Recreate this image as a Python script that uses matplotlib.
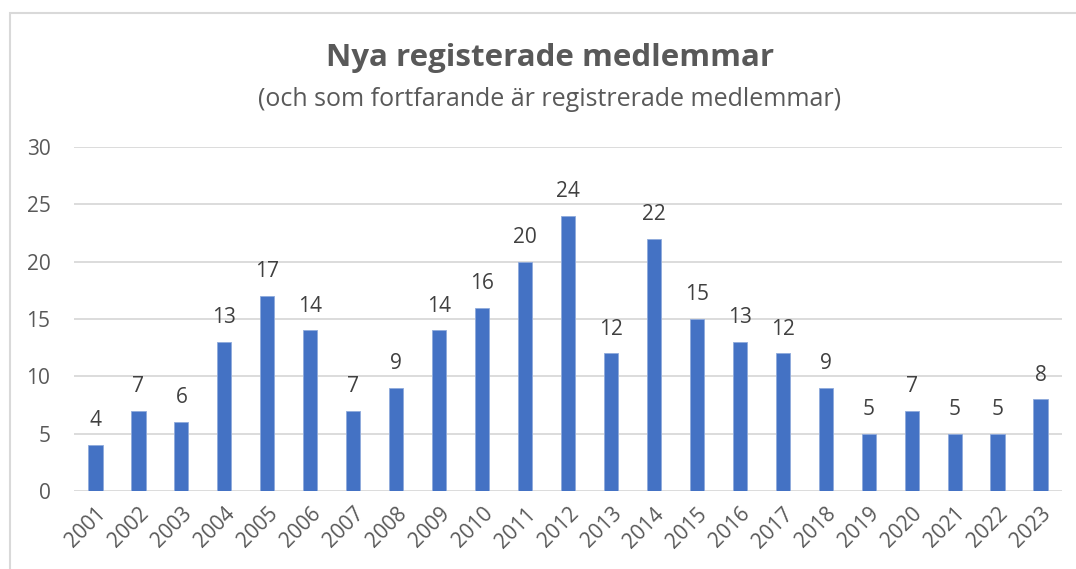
import matplotlib.pyplot as plt
from matplotlib.patches import Rectangle

years = [str(y) for y in range(2001, 2024)]
members = [4, 7, 6, 13, 17, 14, 7, 9, 14, 16, 20, 24, 12, 22, 15, 13, 12, 9, 5, 7, 5, 5, 8]
yticks = [0, 5, 10, 15, 20, 25, 30]

plt.rcParams['font.family'] = ['Open Sans', 'DejaVu Sans']
W, H = 1076, 569
fig = plt.figure(figsize=(W / 100, H / 100), dpi=100)

# ram runt diagrammet
fig.patches.append(Rectangle((10 / W, -0.1), 1.2, 1 - 13 / H + 0.1, transform=fig.transFigure,
                             fill=False, edgecolor='#d9d9d9', linewidth=1.5))

ax = fig.add_axes([74 / W, 1 - 491 / H, (1062 - 74) / W, (491 - 147) / H])
x = range(len(years))
bars = ax.bar(x, members, width=0.33, color='#4472c4', edgecolor='#8faadc', linewidth=0.6, zorder=3)
for xi, v in zip(x, members):
    ax.text(xi, v + 1.2, str(v), ha='center', va='bottom', fontsize=15, color='#404040')

ax.set_xlim(-0.5, len(years) - 0.5)
ax.set_ylim(0, 30)
ax.set_yticks(yticks)
ax.set_xticks(list(x))
ax.set_xticklabels(years, rotation=45, ha='right', rotation_mode='anchor')
ax.tick_params(axis='both', length=0, labelsize=15, colors='#595959')
ax.tick_params(axis='x', pad=9)
ax.tick_params(axis='y', pad=17)
ax.grid(axis='y', color='#d9d9d9', linewidth=1.3, zorder=0)
for s in ax.spines.values():
    s.set_visible(False)

fig.text(550 / W, 1 - 58 / H, 'Nya registerade medlemmar', ha='center', va='center',
         fontsize=22.5, fontweight='bold', color='#595959')
fig.text(550 / W, 1 - 99 / H, '(och som fortfarande är registrerade medlemmar)', ha='center',
         va='center', fontsize=18, color='#595959')

fig.savefig('out.png', dpi=100)
